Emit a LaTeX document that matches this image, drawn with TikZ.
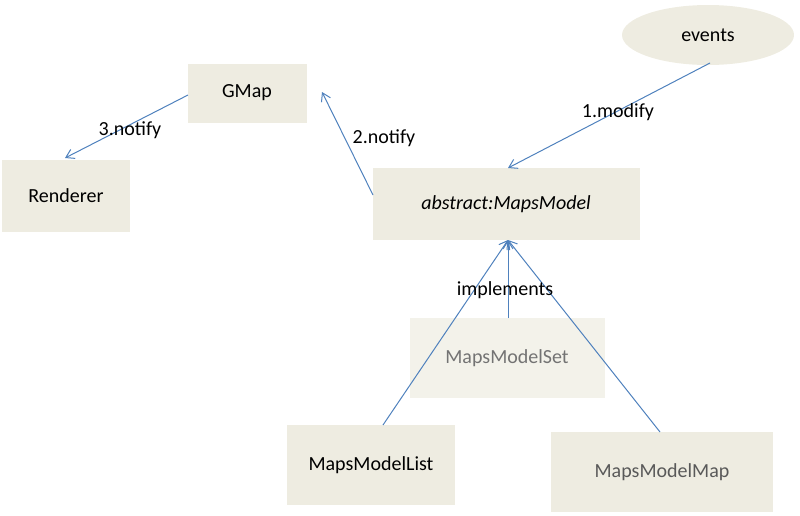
\documentclass[tikz,border=0pt]{standalone}
\usepackage{fontspec}
\setmainfont{Carlito}
\usetikzlibrary{arrows.meta,shapes.geometric}
\definecolor{bx}{HTML}{EEECE1}
\definecolor{ln}{HTML}{4F81BD}
\begin{document}
\begin{tikzpicture}[x=1pt,y=-1pt,
 box/.style={draw=none,fill=bx,inner sep=0,font=\fontsize{20}{24}\selectfont},
 con/.style={draw=ln,line width=1pt,-{Straight Barb[length=8pt,width=10pt]}},
 lab/.style={font=\fontsize{20}{24}\selectfont}]
\useasboundingbox (0,0) rectangle (800,515);
\node[box,ellipse,minimum width=172,minimum height=60] (ev) at (708,35) {events};
\node[box,minimum width=119,minimum height=59] (gm) at (247,93) {GMap};
\node[box,minimum width=128,minimum height=72] (re) at (66,196) {Renderer};
\node[box,minimum width=267,minimum height=72] (am) at (506,204) {\itshape abstract:MapsModel};
\node[box,fill=bx!70,minimum width=195,minimum height=80,text=black!55] (ms) at (507,358) {MapsModelSet};
\node[box,minimum width=168,minimum height=80] (ml) at (371,465) {MapsModelList};
\node[box,minimum width=222,minimum height=80,text=black!65] (mm) at (662,472) {MapsModelMap};
\coordinate (amt) at (508,240);
\draw[con] (710,63) -- (508,168);
\draw[con] (373,195) -- (322,92);
\draw[con] (188,95) -- (65,158);
\draw[con] (383,425) -- (amt);
\draw[con] (508,318) -- (amt);
\draw[con] (660,432) -- (amt);
\node[lab] (l1) at (618,112) {1.modify};
\node[lab] (l2) at (384,138) {2.notify};
\node[lab] (l3) at (130,130) {3.notify};
\node[lab] (l4) at (505,290) {implements};
\end{tikzpicture}
\end{document}
